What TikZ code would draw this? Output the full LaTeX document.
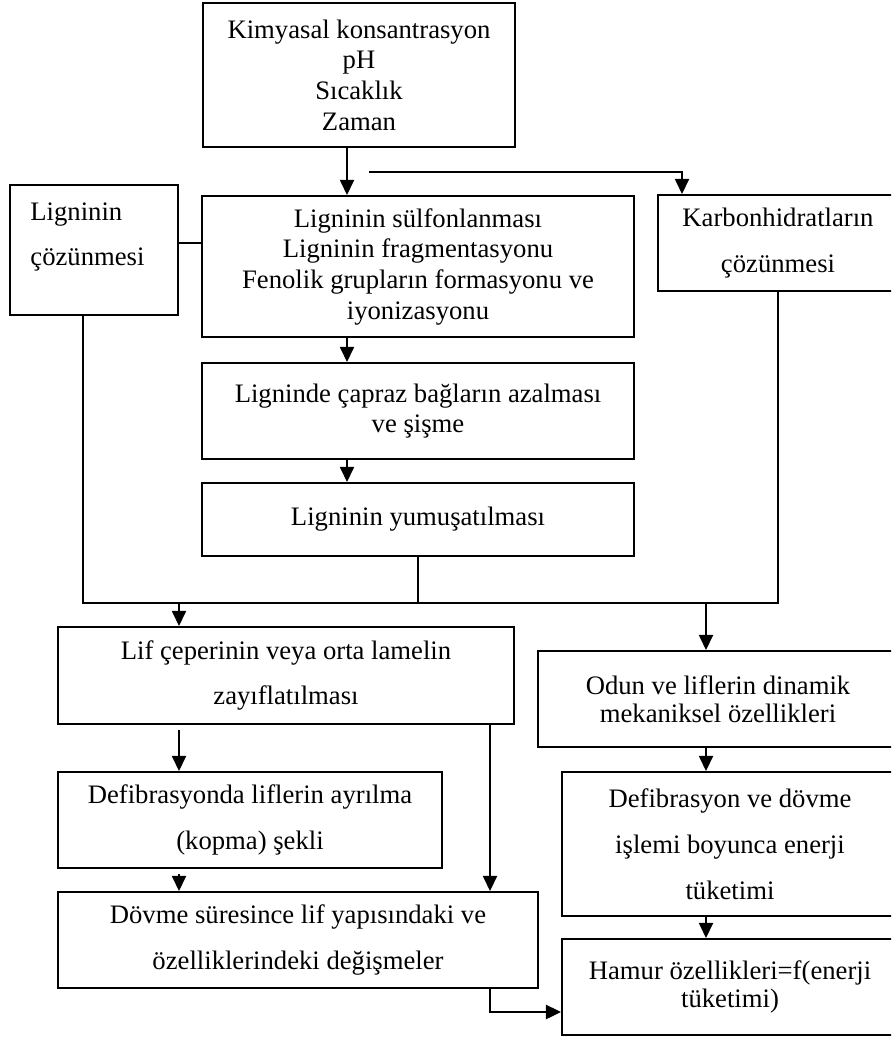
\documentclass[tikz,border=0pt]{standalone}
\usepackage{fontspec}
\setmainfont{Liberation Serif}
\usetikzlibrary{arrows.meta,calc}

\tikzset{
  box/.style={draw, line width=0.9pt, inner sep=0pt, align=center, font=\fontsize{12}{13.8}\selectfont},
  sized/.style 2 args={minimum width=#1*0.45pt, minimum height=#2*0.45pt},
  wide/.style={font=\fontsize{12}{20.6}\selectfont},
  tight/.style={font=\fontsize{12}{12.4}\selectfont},
  link/.style={line width=0.6pt},
  arr/.style={link, -{Triangle[length=6.8pt,width=6.4pt]}},
}

\begin{document}
\begin{tikzpicture}[x=0.45pt,y=0.45pt,yscale=-1]
\useasboundingbox (0,0) rectangle (891,1037);
\clip (0,0) rectangle (891,1037);

% Boxes
\node[box, sized={312}{144}] (factors) at (359,75) {Kimyasal konsantrasyon\\pH\\Sıcaklık\\Zaman};
\node[box, sized={168}{130}] (lc) at (94,250) {};
\node[anchor=north west, inner sep=0pt, align=left, font=\fontsize{12}{20.6}\selectfont] (lctext) at (30,202) {Ligninin\\çözünmesi};
\node[box, sized={432}{141}] (rxn) at (418,266.5) {Ligninin sülfonlanması\\Ligninin fragmentasyonu\\Fenolik grupların formasyonu ve\\iyonizasyonu};
\node[box, wide, sized={240}{96}] (carb) at (778,243) {Karbonhidratların\\çözünmesi};
\node[box, sized={432}{96}] (cross) at (418,411) {Ligninde çapraz bağların azalması\\ve şişme};
\node[box, sized={432}{73}] (soft) at (418,519.5) {Ligninin yumuşatılması};
\node[box, wide, sized={456}{97}] (weak) at (286,675.5) {Lif çeperinin veya orta lamelin\\zayıflatılması};
\node[box, tight, sized={360}{96}] (dyn) at (718,699) {Odun ve liflerin dinamik\\mekaniksel özellikleri};
\node[box, wide, sized={384}{96}] (sep) at (250,820) {Defibrasyonda liflerin ayrılma\\(kopma) şekli};
\node[box, wide, sized={336}{144}] (energy) at (730,844) {Defibrasyon ve dövme\\işlemi boyunca enerji\\tüketimi};
\node[box, wide, sized={480}{96}] (beat) at (298,940) {Dövme süresince lif yapısındaki ve\\özelliklerindeki değişmeler};
\node[box, tight, sized={336}{96}] (pulp) at (730,987) {Hamur özellikleri=f(enerji\\tüketimi)};

% Connector columns
\coordinate (spine) at (347,0);
\coordinate (lcol) at (179,0);
\coordinate (mcol) at (490,0);
\coordinate (rcol) at (706,0);
\coordinate (bus) at (0,603);
\coordinate (fork) at (369,172);

% Connectors
\draw[arr] (spine |- factors.south) -- (spine |- rxn.north);
\draw[arr] (fork) -| ($(carb.north west)+(25,0)$);
\draw[link] ($(lc.east)+(0,-7)$) coordinate (lcr) -- (lcr -| rxn.west);
\draw[arr] (spine |- rxn.south) -- (spine |- cross.north);
\draw[arr] (spine |- cross.south) -- (spine |- soft.north);
\draw[link] ($(lc.south)+(-11,0)$) |- (carb.south |- bus) -- (carb.south);
\draw[link] (soft.south) -- (soft.south |- bus);
\draw[arr] (lcol |- bus) -- (lcol |- weak.north);
\draw[arr] (rcol |- bus) -- (rcol |- dyn.north);
\draw[arr] ($(lcol |- weak.south)+(0,5)$) -- (lcol |- sep.north);
\draw[arr] ($(lcol |- sep.south)+(0,5)$) -- (lcol |- beat.north);
\draw[arr] (mcol |- weak.south) -- (mcol |- beat.north);
\draw[arr] (rcol |- dyn.south) -- (rcol |- energy.north);
\draw[arr] (rcol |- energy.south) -- (rcol |- pulp.north);
\draw[arr, line width=0.9pt] (mcol |- beat.south) |- ($(pulp.west)+(0,25)$);

\end{tikzpicture}
\end{document}
